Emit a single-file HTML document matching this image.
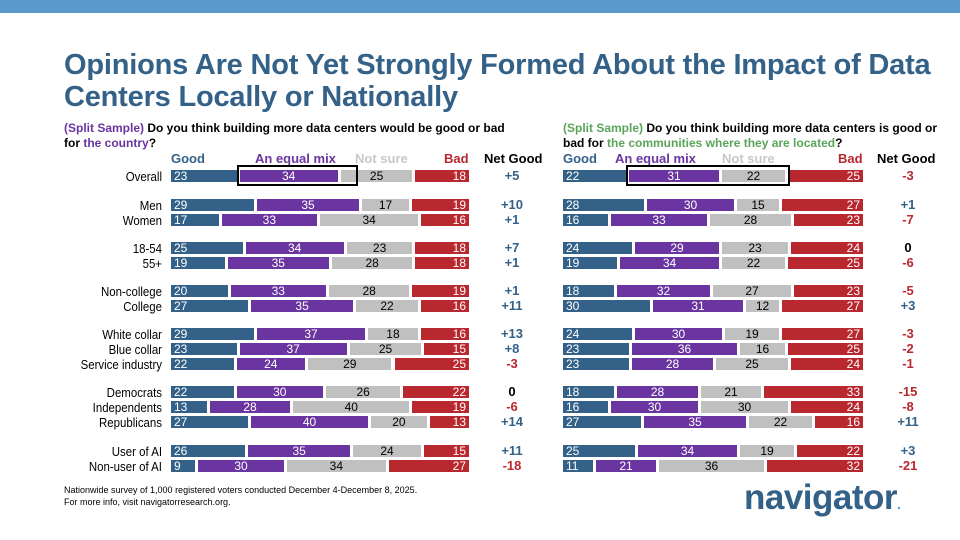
<!DOCTYPE html>
<html><head><meta charset="utf-8"><style>
body{margin:0;width:960px;height:540px;background:#fff;position:relative;overflow:hidden;font-family:"Liberation Sans",sans-serif}
.top{position:absolute;left:0;top:0;width:960px;height:13px;background:#5b98cc}
.title{position:absolute;left:64px;top:49px;font-size:29px;font-weight:bold;color:#336188;line-height:32px;letter-spacing:-0.2px}
.q{position:absolute;top:121px;font-size:12px;font-weight:bold;line-height:15px;color:#000;white-space:nowrap}
.ch{position:absolute;top:151px;font-size:13px;font-weight:bold}
.lab{position:absolute;width:162px;left:0;text-align:right;font-size:13px;line-height:14px;color:#000;transform:scaleX(0.88);transform-origin:right}
.bar{position:absolute;height:12px;display:flex;font-size:12px;line-height:12px}
.bar div{box-sizing:border-box;height:12px;white-space:nowrap;overflow:hidden}
.g{background:#336188;color:#fff;padding-left:3px;border-right:3px solid #fff}
.m{background:#6a35a0;color:#fff;text-align:center;border-right:3px solid #fff}
.n{background:#c0c0c0;color:#000;text-align:center;border-right:3px solid #fff}
.b{background:#b8282e;color:#fff;text-align:right;padding-right:3px;margin-left:auto}
.net{position:absolute;width:50px;text-align:center;font-size:13px;line-height:14px;font-weight:bold}
.p{color:#336188}.r{color:#b8282e}.z{color:#000}
.box{position:absolute;border:2px solid #000;height:17px}
.foot{position:absolute;left:64px;top:484px;font-size:9px;line-height:12px;color:#000}
.logo{position:absolute;left:744px;top:478px;font-size:35px;font-weight:bold;color:#336188;letter-spacing:-0.5px}
</style></head><body>
<div class="top"></div>
<div class="title">Opinions Are Not Yet Strongly Formed About the Impact of Data<br>Centers Locally or Nationally</div>
<div class="q" style="left:64px"><span style="color:#6a35a0">(Split Sample)</span> Do you think building more data centers would be good or bad<br>for <span style="color:#6a35a0">the country</span>?</div>
<div class="q" style="left:563px"><span style="color:#5aa55a">(Split Sample)</span> Do you think building more data centers is good or<br>bad for <span style="color:#5aa55a">the communities where they are located</span>?</div>

<div class="ch" style="left:171px;color:#336188">Good</div>
<div class="ch" style="left:255px;color:#6a35a0">An equal mix</div>
<div class="ch" style="left:355px;color:#c8c8c8">Not sure</div>
<div class="ch" style="left:444px;color:#b8282e">Bad</div>
<div class="ch" style="left:484px;color:#000">Net Good</div>
<div class="ch" style="left:563px;color:#336188">Good</div>
<div class="ch" style="left:615px;color:#6a35a0">An equal mix</div>
<div class="ch" style="left:722px;color:#c8c8c8">Not sure</div>
<div class="ch" style="left:838px;color:#b8282e">Bad</div>
<div class="ch" style="left:877px;color:#000">Net Good</div>

<!-- left chart -->
<div class="lab" style="top:170px">Overall</div>
<div class="bar" style="left:171px;top:170px;width:298px"><div class="g" style="width:23%">23</div><div class="m" style="width:34%">34</div><div class="n" style="width:25%">25</div><div class="b" style="width:18%">18</div></div>
<div class="net p" style="left:487px;top:169px">+5</div>
<div class="box" style="left:237px;top:165px;width:117px"></div>

<div class="lab" style="top:199px">Men</div>
<div class="bar" style="left:171px;top:199px;width:298px"><div class="g" style="width:29%">29</div><div class="m" style="width:35%">35</div><div class="n" style="width:17%">17</div><div class="b" style="width:19%">19</div></div>
<div class="net p" style="left:487px;top:198px">+10</div>
<div class="lab" style="top:214px">Women</div>
<div class="bar" style="left:171px;top:214px;width:298px"><div class="g" style="width:17%">17</div><div class="m" style="width:33%">33</div><div class="n" style="width:34%">34</div><div class="b" style="width:16%">16</div></div>
<div class="net p" style="left:487px;top:213px">+1</div>

<div class="lab" style="top:242px">18-54</div>
<div class="bar" style="left:171px;top:242px;width:298px"><div class="g" style="width:25%">25</div><div class="m" style="width:34%">34</div><div class="n" style="width:23%">23</div><div class="b" style="width:18%">18</div></div>
<div class="net p" style="left:487px;top:241px">+7</div>
<div class="lab" style="top:257px">55+</div>
<div class="bar" style="left:171px;top:257px;width:298px"><div class="g" style="width:19%">19</div><div class="m" style="width:35%">35</div><div class="n" style="width:28%">28</div><div class="b" style="width:18%">18</div></div>
<div class="net p" style="left:487px;top:256px">+1</div>

<div class="lab" style="top:285px">Non-college</div>
<div class="bar" style="left:171px;top:285px;width:298px"><div class="g" style="width:20%">20</div><div class="m" style="width:33%">33</div><div class="n" style="width:28%">28</div><div class="b" style="width:19%">19</div></div>
<div class="net p" style="left:487px;top:284px">+1</div>
<div class="lab" style="top:300px">College</div>
<div class="bar" style="left:171px;top:300px;width:298px"><div class="g" style="width:27%">27</div><div class="m" style="width:35%">35</div><div class="n" style="width:22%">22</div><div class="b" style="width:16%">16</div></div>
<div class="net p" style="left:487px;top:299px">+11</div>

<div class="lab" style="top:328px">White collar</div>
<div class="bar" style="left:171px;top:328px;width:298px"><div class="g" style="width:29%">29</div><div class="m" style="width:37%">37</div><div class="n" style="width:18%">18</div><div class="b" style="width:16%">16</div></div>
<div class="net p" style="left:487px;top:327px">+13</div>
<div class="lab" style="top:343px">Blue collar</div>
<div class="bar" style="left:171px;top:343px;width:298px"><div class="g" style="width:23%">23</div><div class="m" style="width:37%">37</div><div class="n" style="width:25%">25</div><div class="b" style="width:15%">15</div></div>
<div class="net p" style="left:487px;top:342px">+8</div>
<div class="lab" style="top:358px">Service industry</div>
<div class="bar" style="left:171px;top:358px;width:298px"><div class="g" style="width:22%">22</div><div class="m" style="width:24%">24</div><div class="n" style="width:29%">29</div><div class="b" style="width:25%">25</div></div>
<div class="net r" style="left:487px;top:357px">-3</div>

<div class="lab" style="top:386px">Democrats</div>
<div class="bar" style="left:171px;top:386px;width:298px"><div class="g" style="width:22%">22</div><div class="m" style="width:30%">30</div><div class="n" style="width:26%">26</div><div class="b" style="width:22%">22</div></div>
<div class="net z" style="left:487px;top:385px">0</div>
<div class="lab" style="top:401px">Independents</div>
<div class="bar" style="left:171px;top:401px;width:298px"><div class="g" style="width:13%">13</div><div class="m" style="width:28%">28</div><div class="n" style="width:40%">40</div><div class="b" style="width:19%">19</div></div>
<div class="net r" style="left:487px;top:400px">-6</div>
<div class="lab" style="top:416px">Republicans</div>
<div class="bar" style="left:171px;top:416px;width:298px"><div class="g" style="width:27%">27</div><div class="m" style="width:40%">40</div><div class="n" style="width:20%">20</div><div class="b" style="width:13%">13</div></div>
<div class="net p" style="left:487px;top:415px">+14</div>

<div class="lab" style="top:445px">User of AI</div>
<div class="bar" style="left:171px;top:445px;width:298px"><div class="g" style="width:26%">26</div><div class="m" style="width:35%">35</div><div class="n" style="width:24%">24</div><div class="b" style="width:15%">15</div></div>
<div class="net p" style="left:487px;top:444px">+11</div>
<div class="lab" style="top:460px">Non-user of AI</div>
<div class="bar" style="left:171px;top:460px;width:298px"><div class="g" style="width:9%">9</div><div class="m" style="width:30%">30</div><div class="n" style="width:34%">34</div><div class="b" style="width:27%">27</div></div>
<div class="net r" style="left:487px;top:459px">-18</div>

<!-- right chart -->
<div class="bar" style="left:563px;top:170px;width:300px"><div class="g" style="width:22%">22</div><div class="m" style="width:31%">31</div><div class="n" style="width:22%">22</div><div class="b" style="width:25%">25</div></div>
<div class="net r" style="left:883px;top:169px">-3</div>
<div class="box" style="left:626px;top:165px;width:160px"></div>
<div class="bar" style="left:563px;top:199px;width:300px"><div class="g" style="width:28%">28</div><div class="m" style="width:30%">30</div><div class="n" style="width:15%">15</div><div class="b" style="width:27%">27</div></div>
<div class="net p" style="left:883px;top:198px">+1</div>
<div class="bar" style="left:563px;top:214px;width:300px"><div class="g" style="width:16%">16</div><div class="m" style="width:33%">33</div><div class="n" style="width:28%">28</div><div class="b" style="width:23%">23</div></div>
<div class="net r" style="left:883px;top:213px">-7</div>
<div class="bar" style="left:563px;top:242px;width:300px"><div class="g" style="width:24%">24</div><div class="m" style="width:29%">29</div><div class="n" style="width:23%">23</div><div class="b" style="width:24%">24</div></div>
<div class="net z" style="left:883px;top:241px">0</div>
<div class="bar" style="left:563px;top:257px;width:300px"><div class="g" style="width:19%">19</div><div class="m" style="width:34%">34</div><div class="n" style="width:22%">22</div><div class="b" style="width:25%">25</div></div>
<div class="net r" style="left:883px;top:256px">-6</div>
<div class="bar" style="left:563px;top:285px;width:300px"><div class="g" style="width:18%">18</div><div class="m" style="width:32%">32</div><div class="n" style="width:27%">27</div><div class="b" style="width:23%">23</div></div>
<div class="net r" style="left:883px;top:284px">-5</div>
<div class="bar" style="left:563px;top:300px;width:300px"><div class="g" style="width:30%">30</div><div class="m" style="width:31%">31</div><div class="n" style="width:12%">12</div><div class="b" style="width:27%">27</div></div>
<div class="net p" style="left:883px;top:299px">+3</div>
<div class="bar" style="left:563px;top:328px;width:300px"><div class="g" style="width:24%">24</div><div class="m" style="width:30%">30</div><div class="n" style="width:19%">19</div><div class="b" style="width:27%">27</div></div>
<div class="net r" style="left:883px;top:327px">-3</div>
<div class="bar" style="left:563px;top:343px;width:300px"><div class="g" style="width:23%">23</div><div class="m" style="width:36%">36</div><div class="n" style="width:16%">16</div><div class="b" style="width:25%">25</div></div>
<div class="net r" style="left:883px;top:342px">-2</div>
<div class="bar" style="left:563px;top:358px;width:300px"><div class="g" style="width:23%">23</div><div class="m" style="width:28%">28</div><div class="n" style="width:25%">25</div><div class="b" style="width:24%">24</div></div>
<div class="net r" style="left:883px;top:357px">-1</div>
<div class="bar" style="left:563px;top:386px;width:300px"><div class="g" style="width:18%">18</div><div class="m" style="width:28%">28</div><div class="n" style="width:21%">21</div><div class="b" style="width:33%">33</div></div>
<div class="net r" style="left:883px;top:385px">-15</div>
<div class="bar" style="left:563px;top:401px;width:300px"><div class="g" style="width:16%">16</div><div class="m" style="width:30%">30</div><div class="n" style="width:30%">30</div><div class="b" style="width:24%">24</div></div>
<div class="net r" style="left:883px;top:400px">-8</div>
<div class="bar" style="left:563px;top:416px;width:300px"><div class="g" style="width:27%">27</div><div class="m" style="width:35%">35</div><div class="n" style="width:22%">22</div><div class="b" style="width:16%">16</div></div>
<div class="net p" style="left:883px;top:415px">+11</div>
<div class="bar" style="left:563px;top:445px;width:300px"><div class="g" style="width:25%">25</div><div class="m" style="width:34%">34</div><div class="n" style="width:19%">19</div><div class="b" style="width:22%">22</div></div>
<div class="net p" style="left:883px;top:444px">+3</div>
<div class="bar" style="left:563px;top:460px;width:300px"><div class="g" style="width:11%">11</div><div class="m" style="width:21%">21</div><div class="n" style="width:36%">36</div><div class="b" style="width:32%">32</div></div>
<div class="net r" style="left:883px;top:459px">-21</div>

<div class="foot">Nationwide survey of 1,000 registered voters conducted December 4-December 8, 2025.<br>For more info, visit navigatorresearch.org.</div>
<div class="logo">navigator<span style="font-size:14px;color:#5b98cc">.</span></div>
</body></html>
